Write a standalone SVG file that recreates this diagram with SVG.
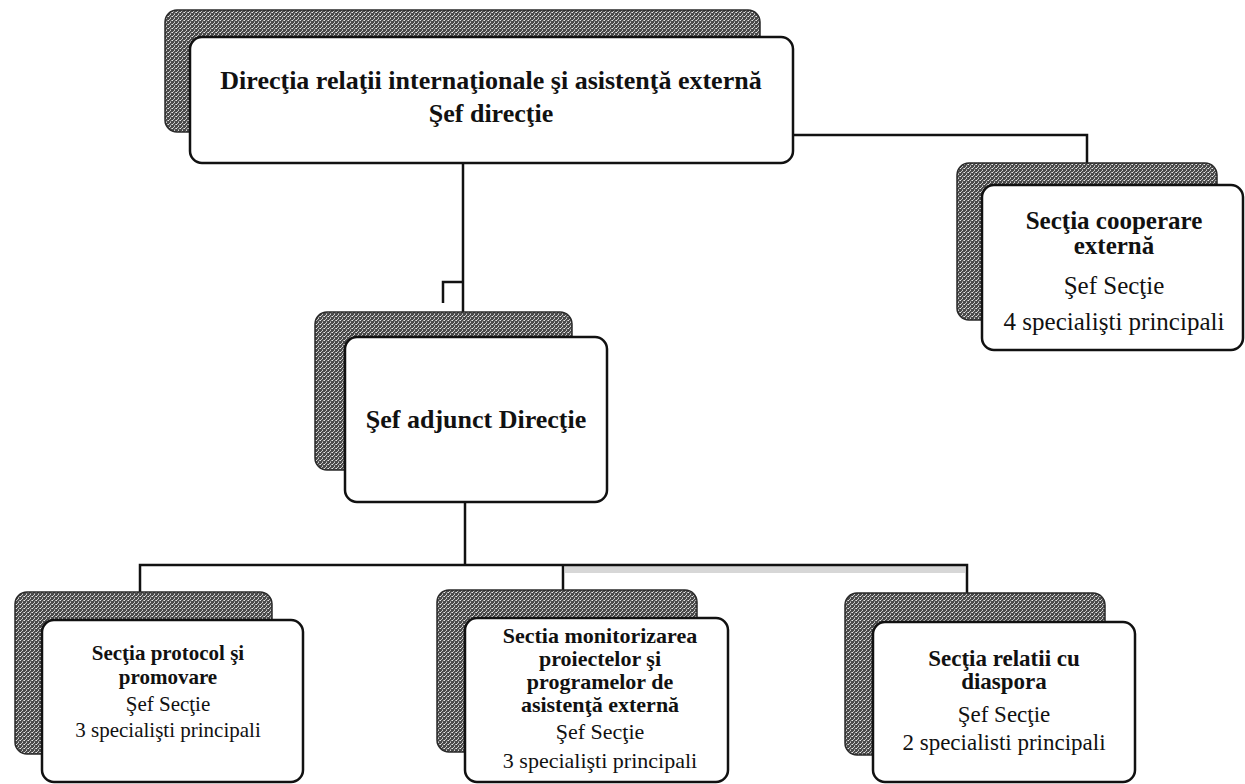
<svg xmlns="http://www.w3.org/2000/svg" width="1245" height="784" viewBox="0 0 1245 784">
<defs>
<pattern id="ht" width="4" height="4" patternUnits="userSpaceOnUse">
<rect width="4" height="4" fill="#4a4a4a"/>
<rect x="0" y="0" width="1" height="1" fill="#e8e8e8"/>
<rect x="2" y="2" width="1" height="1" fill="#d0d0d0"/>
<rect x="3" y="0" width="1" height="1" fill="#a8a8a8"/>
<rect x="1" y="3" width="1" height="1" fill="#c0c0c0"/>
<rect x="2" y="1" width="1" height="1" fill="#909090"/>
</pattern>
<style>
.sh{fill:url(#ht);stroke:#2a2a2a;stroke-width:1.5}
.bx{fill:#fff;stroke:#111;stroke-width:2.5}
.t{font-family:"Liberation Serif","Times New Roman",serif;fill:#111;text-anchor:middle}
.b{font-weight:bold}
.c{fill:none;stroke:#111;stroke-width:2.5}
</style>
</defs>
<rect width="1245" height="784" fill="#fff"/>
<g id="connectors">
<path class="c" d="M463,163 V312"/>
<path class="c" d="M443,303 V282 H463"/>
<path class="c" d="M793,135 H1087 V163"/>
<path class="c" d="M465,502 V565"/>
<rect x="565" y="566" width="400" height="7" fill="#bdbdbd" opacity="0.6"/>
<path class="c" d="M140,592 V565 H967 V593"/>
<path class="c" d="M563,565 V590"/>
</g>
<g id="top">
<rect class="sh" x="165" y="10" width="595" height="122" rx="12"/>
<rect class="bx" x="190" y="37" width="603" height="126" rx="12"/>
<text class="t b" x="491" y="89" font-size="26">Direcţia relaţii internaţionale şi asistenţă externă</text>
<text class="t b" x="491" y="122" font-size="26">Şef direcţie</text>
</g>
<g id="adjunct">
<rect class="sh" x="315" y="312" width="257" height="158" rx="12"/>
<rect class="bx" x="345" y="337" width="262" height="165" rx="12"/>
<text class="t b" x="476" y="428" font-size="26">Şef adjunct Direcţie</text>
</g>
<g id="cooperare">
<rect class="sh" x="957" y="163" width="260" height="157" rx="12"/>
<rect class="bx" x="982" y="185" width="261" height="165" rx="12"/>
<text class="t b" x="1114" y="229" font-size="25">Secţia cooperare</text>
<text class="t b" x="1114" y="254" font-size="25">externă</text>
<text class="t" x="1114" y="294" font-size="25">Şef Secţie</text>
<text class="t" x="1114" y="330" font-size="25">4 specialişti principali</text>
</g>
<g id="protocol">
<rect class="sh" x="15" y="592" width="257" height="162" rx="12"/>
<rect class="bx" x="42" y="620" width="261" height="162" rx="12"/>
<text class="t b" x="168" y="660" font-size="21">Secţia protocol şi</text>
<text class="t b" x="168" y="684" font-size="21">promovare</text>
<text class="t" x="168" y="711" font-size="21">Şef Secţie</text>
<text class="t" x="168" y="737" font-size="21">3 specialişti principali</text>
</g>
<g id="monitorizare">
<rect class="sh" x="437" y="590" width="260" height="162" rx="12"/>
<rect class="bx" x="465" y="618" width="263" height="164" rx="12"/>
<text class="t b" x="600" y="643" font-size="22">Sectia monitorizarea</text>
<text class="t b" x="600" y="666" font-size="22">proiectelor şi</text>
<text class="t b" x="600" y="689" font-size="22">programelor de</text>
<text class="t b" x="600" y="712" font-size="22">asistenţă externă</text>
<text class="t" x="600" y="739" font-size="22">Şef Secţie</text>
<text class="t" x="600" y="768" font-size="22">3 specialişti principali</text>
</g>
<g id="diaspora">
<rect class="sh" x="845" y="593" width="260" height="162" rx="12"/>
<rect class="bx" x="873" y="622" width="262" height="160" rx="12"/>
<text class="t b" x="1004" y="666" font-size="23">Secţia relatii cu</text>
<text class="t b" x="1004" y="689" font-size="23">diaspora</text>
<text class="t" x="1004" y="722" font-size="23">Şef Secţie</text>
<text class="t" x="1004" y="750" font-size="23">2 specialisti principali</text>
</g>
</svg>
